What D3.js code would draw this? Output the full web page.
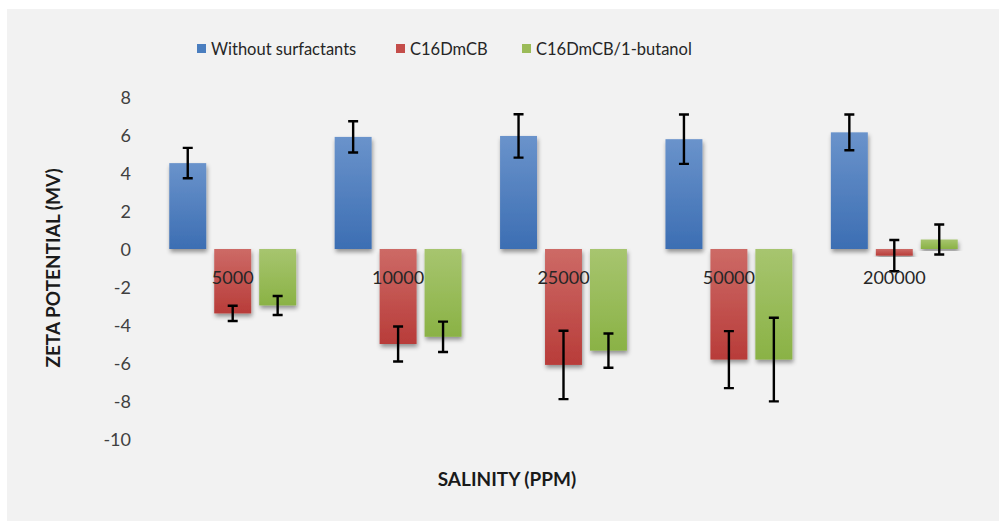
<!DOCTYPE html>
<html>
<head>
<meta charset="utf-8">
<script src="https://cdn.jsdelivr.net/npm/d3@7"></script>
<style>
  html, body { margin: 0; padding: 0; background: #ffffff; }
  svg { display: block; }
  text { font-family: Lato, "Open Sans", sans-serif; }
</style>
</head>
<body>
<svg id="chart" width="999" height="521"></svg>
<script>
// Salinity levels (ppm) on the category axis
const categories = ["5000", "10000", "25000", "50000", "200000"];

// Series names, in legend order
const seriesNames = ["Without surfactants", "C16DmCB", "C16DmCB/1-butanol"];

// Zeta potential (mV) per salinity level, with error half-widths
const withoutSurfactants    = [4.52, 5.9, 5.95, 5.78, 6.14];
const withoutSurfactantsErr = [0.8, 0.82, 1.14, 1.3, 0.94];
const c16dmcb               = [-3.39, -5.0, -6.1, -5.82, -0.35];
const c16dmcbErr            = [0.4, 0.92, 1.8, 1.5, 0.82];
const c16dmcbButanol        = [-2.97, -4.62, -5.35, -5.82, 0.5];
const c16dmcbButanolErr     = [0.5, 0.8, 0.9, 2.2, 0.79];

// Y axis tick values
const yTicks = [8, 6, 4, 2, 0, -2, -4, -6, -8, -10];

const seriesValues = [withoutSurfactants, c16dmcb, c16dmcbButanol];
const seriesErrors = [withoutSurfactantsErr, c16dmcbErr, c16dmcbButanolErr];
const palette = [
  { top: "#6a93cb", bottom: "#3c6eb3", key: "#4a7ebf" },
  { top: "#cd6a66", bottom: "#b83c39", key: "#c44d4a" },
  { top: "#a7c56f", bottom: "#8ab245", key: "#9bbb58" }
];

const svg = d3.select("#chart");

// Chart panel background
svg.append("rect")
  .attr("x", 7).attr("y", 9)
  .attr("width", 992).attr("height", 512)
  .attr("fill", "#f2f2f2");

const defs = svg.append("defs");
palette.forEach((c, i) => {
  const g = defs.append("linearGradient")
    .attr("id", "grad" + i)
    .attr("x1", 0).attr("y1", 0).attr("x2", 0).attr("y2", 1);
  g.append("stop").attr("offset", "0%").attr("stop-color", c.top);
  g.append("stop").attr("offset", "100%").attr("stop-color", c.bottom);
});
const shadow = defs.append("filter")
  .attr("id", "shadow")
  .attr("x", "-20%").attr("y", "-20%")
  .attr("width", "140%").attr("height", "140%");
shadow.append("feDropShadow")
  .attr("dx", 1).attr("dy", 3)
  .attr("stdDeviation", 2)
  .attr("flood-color", "#000")
  .attr("flood-opacity", 0.4);

// Scales
const y = d3.scaleLinear().domain([-10, 8]).range([439, 97]);
const x0 = d3.scaleBand()
  .domain(categories)
  .range([150, 977])
  .paddingInner(0.233)
  .paddingOuter(0.1165);
const x1 = d3.scaleBand()
  .domain(d3.range(seriesNames.length))
  .range([0, x0.bandwidth()])
  .paddingInner(0.178);

// Y axis labels (no axis line or tick marks), plain hyphen for negatives
const yAxis = d3.axisLeft(y).tickValues(yTicks).tickSize(0).tickPadding(0)
  .tickFormat(d => String(d));
const yAxisG = svg.append("g")
  .attr("transform", "translate(131,0)")
  .call(yAxis);
yAxisG.select(".domain").remove();
yAxisG.selectAll("text")
  .attr("font-size", 18)
  .attr("font-family", "Lato, 'Open Sans', sans-serif")
  .attr("fill", "#404040")
  .attr("dy", "0.36em");

// Bars
const groups = svg.append("g").selectAll("g")
  .data(categories)
  .join("g")
  .attr("transform", d => `translate(${x0(d)},0)`);

seriesNames.forEach((name, si) => {
  groups.append("rect")
    .attr("x", x1(si))
    .attr("width", x1.bandwidth())
    .attr("y", (d, ci) => y(Math.max(0, seriesValues[si][ci])))
    .attr("height", (d, ci) => Math.abs(y(seriesValues[si][ci]) - y(0)))
    .attr("fill", `url(#grad${si})`)
    .attr("filter", "url(#shadow)");
});

// Category labels sit just under the zero line, over the bars
svg.append("g").selectAll("text")
  .data(categories)
  .join("text")
  .attr("x", d => x0(d) + x0.bandwidth() / 2)
  .attr("y", y(0) + 35)
  .attr("text-anchor", "middle")
  .attr("font-size", 18)
  .attr("fill", "#262626")
  .text(d => d);

// Error bars
seriesNames.forEach((name, si) => {
  const eg = groups.append("g")
    .attr("stroke", "#000")
    .attr("stroke-width", 2.4)
    .attr("fill", "none");
  const cx = x1(si) + x1.bandwidth() / 2;
  eg.append("path")
    .attr("d", (d, ci) => {
      const v = seriesValues[si][ci], e = seriesErrors[si][ci];
      const yt = y(v + e), yb = y(v - e);
      return `M${cx},${yt}V${yb}M${cx - 5},${yt}H${cx + 5}M${cx - 5},${yb}H${cx + 5}`;
    });
});

// Legend
const legendX = [197, 396, 522];
const legend = svg.append("g").selectAll("g")
  .data(seriesNames)
  .join("g")
  .attr("transform", (d, i) => `translate(${legendX[i]},44)`);
legend.append("rect")
  .attr("width", 9).attr("height", 9)
  .attr("fill", (d, i) => palette[i].key);
legend.append("text")
  .attr("x", 14).attr("y", 10.5)
  .attr("font-size", 16.5)
  .attr("fill", "#262626")
  .text(d => d);

// Axis titles
svg.append("text")
  .attr("x", 507).attr("y", 486)
  .attr("text-anchor", "middle")
  .attr("font-size", 19)
  .attr("font-weight", "bold")
  .attr("fill", "#1a1a1a")
  .text("SALINITY (PPM)");

svg.append("text")
  .attr("transform", "translate(60,268) rotate(-90)")
  .attr("text-anchor", "middle")
  .attr("font-size", 19)
  .attr("font-weight", "bold")
  .attr("fill", "#1a1a1a")
  .text("ZETA POTENTIAL (MV)");
</script>
</body>
</html>
